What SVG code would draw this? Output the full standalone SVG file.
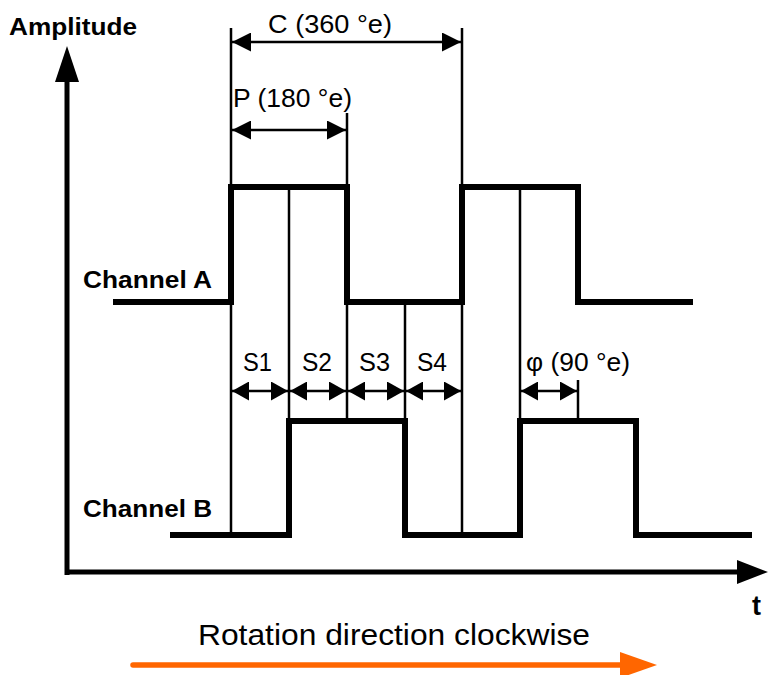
<svg xmlns="http://www.w3.org/2000/svg" width="768" height="675" viewBox="0 0 768 675">
<style>
text{font-family:"Liberation Sans",Arial,sans-serif;fill:#000}
.b{font-weight:bold}
.lbl{font-size:26.5px}
.sig{fill:none;stroke:#000;stroke-width:6;stroke-linejoin:miter;stroke-linecap:butt}
.thin{stroke:#000;stroke-width:2.5;fill:none}
.ax{stroke:#000;stroke-width:5;fill:none}
</style>
<defs>
<marker id="ah" viewBox="0 0 19 19" refX="19" refY="9.5" markerWidth="19" markerHeight="19" markerUnits="userSpaceOnUse" orient="auto-start-reverse">
<path d="M0,0 L19,9.5 L0,19 Z" fill="#000"/>
</marker>
<marker id="ahs" viewBox="0 0 17 19" refX="17" refY="9.5" markerWidth="17" markerHeight="19" markerUnits="userSpaceOnUse" orient="auto-start-reverse">
<path d="M0,0 L17,9.5 L0,19 Z" fill="#000"/>
</marker>
</defs>
<rect width="768" height="675" fill="#fff"/>

<g id="axes">
<line class="ax" x1="67" y1="80" x2="67" y2="575"/>
<path d="M67,46 L79,82 L55,82 Z" fill="#000"/>
<line class="ax" x1="65" y1="572" x2="738" y2="572"/>
<path d="M737,560 L768,572 L737,584 Z" fill="#000"/>
<text class="b" x="9" y="35" font-size="23" textLength="128" lengthAdjust="spacingAndGlyphs">Amplitude</text>
<text class="b" x="752" y="615" font-size="27">t</text>
</g>

<g id="channelA">
<polyline class="sig" points="113,302 231,302 231,187 347,187 347,302 462,302 462,187 578,187 578,302 693,302"/>
<text class="b" x="83" y="288" font-size="24" textLength="129" lengthAdjust="spacingAndGlyphs">Channel A</text>
</g>

<g id="channelB">
<polyline class="sig" points="170,535 289,535 289,421 405,421 405,535 520,535 520,421 636,421 636,535 752,535"/>
<text class="b" x="83" y="517" font-size="24" textLength="129" lengthAdjust="spacingAndGlyphs">Channel B</text>
</g>

<g id="guides">
<line class="thin" x1="231" y1="28" x2="231" y2="535"/>
<line class="thin" x1="289" y1="187" x2="289" y2="421"/>
<line class="thin" x1="347" y1="113" x2="347" y2="421"/>
<line class="thin" x1="405" y1="302" x2="405" y2="421"/>
<line class="thin" x1="462" y1="28" x2="462" y2="535"/>
<line class="thin" x1="520" y1="187" x2="520" y2="421"/>
<line class="thin" x1="578" y1="380" x2="578" y2="421"/>
</g>

<g id="connectors">
<line class="thin" x1="232" y1="42" x2="461" y2="42" marker-start="url(#ah)" marker-end="url(#ah)"/>
<line class="thin" x1="232" y1="130" x2="346" y2="130" marker-start="url(#ah)" marker-end="url(#ah)"/>
<line class="thin" x1="232" y1="391" x2="288" y2="391" marker-start="url(#ahs)" marker-end="url(#ahs)"/>
<line class="thin" x1="290" y1="391" x2="346" y2="391" marker-start="url(#ahs)" marker-end="url(#ahs)"/>
<line class="thin" x1="348" y1="391" x2="404" y2="391" marker-start="url(#ahs)" marker-end="url(#ahs)"/>
<line class="thin" x1="406" y1="391" x2="461" y2="391" marker-start="url(#ahs)" marker-end="url(#ahs)"/>
<line class="thin" x1="521" y1="391" x2="577" y2="391" marker-start="url(#ahs)" marker-end="url(#ahs)"/>
</g>

<g id="labels">
<text class="lbl" x="268" y="33" textLength="124" lengthAdjust="spacingAndGlyphs">C (360 °e)</text>
<text class="lbl" x="233" y="107" textLength="119" lengthAdjust="spacingAndGlyphs">P (180 °e)</text>
<text class="lbl" x="243" y="371" textLength="29" lengthAdjust="spacingAndGlyphs">S1</text>
<text class="lbl" x="302" y="371" textLength="30" lengthAdjust="spacingAndGlyphs">S2</text>
<text class="lbl" x="359" y="371" textLength="31" lengthAdjust="spacingAndGlyphs">S3</text>
<text class="lbl" x="417" y="371" textLength="30" lengthAdjust="spacingAndGlyphs">S4</text>
<text class="lbl" x="526" y="371" textLength="104" lengthAdjust="spacingAndGlyphs">φ (90 °e)</text>
</g>

<g id="rotation">
<text x="198" y="645" font-size="29.5" textLength="392" lengthAdjust="spacingAndGlyphs">Rotation direction clockwise</text>
<line x1="133" y1="665" x2="622" y2="665" stroke="#FF6600" stroke-width="5.5" stroke-linecap="round"/>
<path d="M620,652 L657,665 L620,678 Z" fill="#FF6600"/>
</g>
</svg>
